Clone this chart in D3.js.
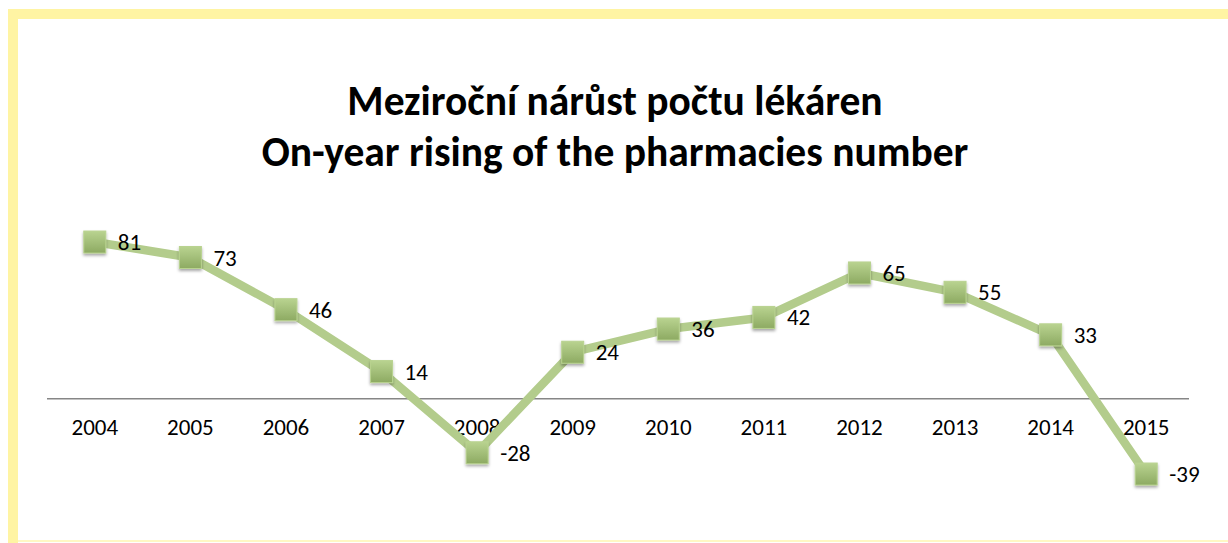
<!DOCTYPE html>
<html>
<head>
<meta charset="utf-8">
<script src="https://cdn.jsdelivr.net/npm/d3@7"></script>
<style>
  body { margin: 0; background: #fff; }
  svg { display: block; font-family: Carlito, "Open Sans", "Liberation Sans", sans-serif; }
</style>
</head>
<body>
<div id="chart"></div>
<script>
let years = ["2004", "2005", "2006", "2007", "2008", "2009", "2010", "2011", "2012", "2013", "2014", "2015"];
let growth = [81, 73, 46, 14, -28, 24, 36, 42, 65, 55, 33, -39];
let titleLines = ["Meziroční nárůst počtu lékáren", "On-year rising of the pharmacies number"];

let w = 1228,
  h = 543;

let svg = d3.select("#chart")
  .append("svg")
  .attr("width", w)
  .attr("height", h);

// frame
svg.append("rect").attr("x", 0).attr("y", 0).attr("width", w).attr("height", h).style("fill", "#fff");
svg.append("rect").attr("x", 8).attr("y", 9).attr("width", w - 8).attr("height", 10).style("fill", "#FFF4A3");
svg.append("rect").attr("x", 8).attr("y", 9).attr("width", 10).attr("height", h - 9).style("fill", "#FFF4A3");
svg.append("rect").attr("x", 18).attr("y", 540).attr("width", w - 18).attr("height", 2).style("fill", "#FFF8C4");

let defs = svg.append("defs");
let grad = defs.append("linearGradient").attr("id", "mk").attr("x1", 0).attr("y1", 0).attr("x2", 0).attr("y2", 1);
grad.append("stop").attr("offset", "0%").attr("stop-color", "#B9D390");
grad.append("stop").attr("offset", "100%").attr("stop-color", "#8DAA62");
let sh = defs.append("filter").attr("id", "sh").attr("x", "-50%").attr("y", "-50%").attr("width", "200%").attr("height", "200%");
sh.append("feDropShadow").attr("dx", 0).attr("dy", 2).attr("stdDeviation", 1.5).attr("flood-color", "#000").attr("flood-opacity", 0.35);

// title
svg.selectAll("text.title")
  .data(titleLines)
  .enter()
  .append("text")
  .attr("class", "title")
  .attr("x", 615)
  .attr("y", function (d, i) { return 115 + i * 51; })
  .attr("text-anchor", "middle")
  .style("font-size", "41.5px")
  .style("font-weight", "bold")
  .style("fill", "#000")
  .text(function (d) { return d; });

let x = d3.scaleBand().domain(years).range([47, 1194]);
let y = d3.scaleLinear().domain([-50, 100]).range([495.3, 205.3]);

// zero axis
let axis = svg.append("g")
  .attr("transform", "translate(0," + y(0) + ")")
  .call(d3.axisBottom(x).tickSize(0).tickPadding(20));
axis.select(".domain").attr("d", "M47,0H1189").style("stroke", "#868686").style("stroke-width", 1.5);
axis.selectAll("text").style("font-size", "23px").style("fill", "#000").style("font-family", "Carlito, 'Open Sans', 'Liberation Sans', sans-serif");

let cx = function (d, i) { return x(years[i]) + x.bandwidth() / 2; };

let line = d3.line()
  .x(function (d, i) { return cx(d, i); })
  .y(function (d) { return y(d); });

svg.append("path")
  .datum(growth)
  .attr("d", line)
  .style("fill", "none")
  .style("stroke", "#B3CC8C")
  .style("stroke-width", 8.5)
  .style("stroke-linejoin", "round");

svg.selectAll("rect.mk")
  .data(growth)
  .enter()
  .append("rect")
  .attr("class", "mk")
  .attr("x", function (d, i) { return cx(d, i) - 11; })
  .attr("y", function (d) { return y(d) - 11; })
  .attr("width", 22)
  .attr("height", 22)
  .attr("filter", "url(#sh)")
  .style("fill", "url(#mk)")
  .style("stroke", "#B9D390")
  .style("stroke-width", 1);

svg.selectAll("text.lbl")
  .data(growth)
  .enter()
  .append("text")
  .attr("class", "lbl")
  .attr("x", function (d, i) { return cx(d, i) + 23; })
  .attr("y", function (d) { return y(d) + 8; })
  .style("font-size", "23px")
  .style("fill", "#000")
  .text(function (d) { return d; });
</script>
</body>
</html>
